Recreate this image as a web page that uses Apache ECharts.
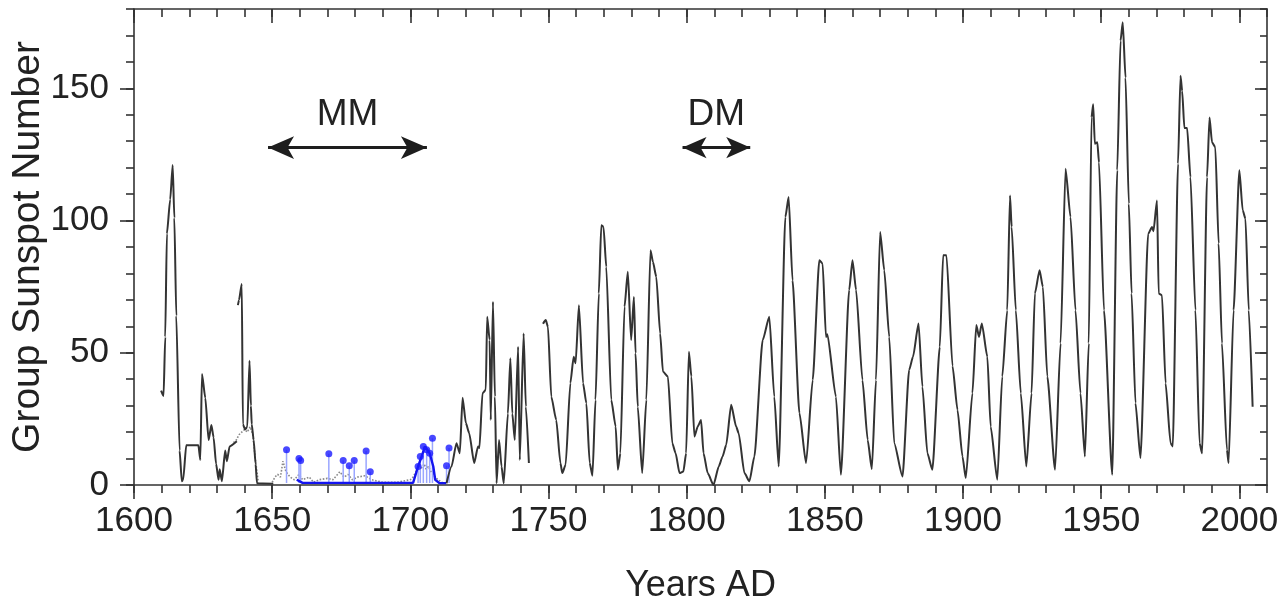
<!DOCTYPE html>
<html>
<head>
<meta charset="utf-8">
<script src="https://cdn.jsdelivr.net/npm/echarts@6/dist/echarts.min.js"></script>
<style>
html,body{margin:0;padding:0;background:#fff;}
#c{width:1284px;height:604px;}
</style>
</head>
<body>
<div id="c"></div>
<script>
// ---------- DATA ----------
const xMajorTicks = [1600, 1650, 1700, 1750, 1800, 1850, 1900, 1950, 2000];
const yMajorTicks = [0, 50, 100, 150];

// Main group sunspot number curve (null = gap)
const mainYears = [
  1609.8,1610.7,1611.3,1611.9,1613.1,1614.0,1614.6,1615.3,1616.5,1617.3,1617.8,1618.9,1623.3,1624.0,1624.6,
  1625.8,1627.0,1628.0,1628.8,1629.7,1630.6,1631.0,1631.8,1633.0,1633.6,1634.6,1637.2,1637.5,1637.6,1638.0,
  1639.0,1639.4,1640.2,1641.0,1641.8,1642.3,1642.6,1643.3,1644.0,1644.5,1650.4,1650.5,
  1713.1,1714.9,1716.7,1717.9,1718.9,1720.1,1721.3,1723.1,1724.5,1725.0,1726.1,1727.3,1727.8,1728.7,1729.1,
  1729.9,1730.6,1731.2,1732.1,1733.0,1733.8,1735.3,1736.2,1736.9,1737.8,1739.0,1739.6,1741.0,1741.8,1742.9,1743.5,
  1748.0,1749.0,1749.8,1751.0,1752.8,1754.3,1755.0,1756.2,1757.9,1759.1,1759.8,1761.0,1762.5,1763.7,1764.9,
  1765.9,1767.0,1768.2,1769.1,1769.9,1770.9,1772.7,1774.3,1775.1,1776.0,1777.5,1778.7,1779.9,1780.9,1781.5,
  1782.3,1783.9,1785.4,1786.9,1787.8,1789.0,1790.4,1791.4,1793.2,1794.8,1796.0,1797.4,1798.8,1799.8,1800.8,
  1801.7,1802.8,1804.0,1805.2,1806.1,1807.6,1809.7,1811.6,1813.0,1814.3,1816.1,1817.9,1818.8,1820.9,1822.7,
  1824.5,1827.5,1829.9,1831.7,1833.3,1835.7,1836.9,1838.3,1840.8,1843.2,1845.6,1848.0,1849.2,1850.4,1850.9,
  1854.0,1855.8,1858.8,1860.0,1861.3,1863.6,1865.5,1867.0,1868.5,1870.0,1871.5,1873.3,1875.1,1878.1,1880.5,
  1881.9,1883.9,1885.3,1887.1,1888.9,1891.6,1892.8,1894.0,1896.2,1898.0,1899.8,1901.0,1903.4,1904.8,1905.8,
  1906.8,1908.8,1910.0,1912.4,1914.2,1916.0,1917.0,1917.6,1919.1,1920.9,1922.9,1924.8,1926.0,1927.7,1928.9,
  1930.5,1933.3,1935.3,1937.1,1938.9,1940.7,1942.5,1944.1,1945.5,1946.5,1947.1,1947.7,1948.6,1949.2,1951.0,
  1954.0,1955.8,1957.0,1957.8,1958.8,1960.0,1961.0,1962.4,1964.2,1967.0,1968.4,1968.9,1970.2,1970.8,1972.0,
  1973.3,1975.1,1975.9,1977.8,1978.7,1979.3,1980.1,1981.1,1982.3,1984.1,1985.6,1986.5,1988.3,1989.2,1990.1,
  1991.3,1992.5,1993.7,1995.5,1996.1,1997.9,2000.0,2001.2,2002.2,2003.4,2004.8
];
const mainVals = [
  35.7,33.7,56,95,108,121,101,64,13,1.4,2,15,15,9.5,42,
  33,17,22.7,18,8,2,6,1.4,13,9,14.6,16.5,null,68,70,
  76,23,21,22,47,30,23,17,8,0.7,0.5,null,
  0.7,7,15.8,12,33,23.4,19.6,8.3,14.6,14,34.7,36,63.6,54.8,24.6,
  69.3,33.4,0.7,17,7,0.7,27,47.9,27,17,52.3,9.5,57.3,29.6,8.3,null,
  61,62.4,59.8,33.4,24.6,8.3,4.5,7.7,38.5,48.5,46,68,38.5,30.9,8.3,
  3.5,32.2,72.4,98.2,97.6,82.5,32.2,22.1,5.8,12,67.4,80.6,54.8,71.1,49.8,
  29.6,4.5,32.2,88.8,84.3,78.7,57.3,42.9,41,15.8,12,4.5,5.1,12,50.4,
  41,18.3,22.1,24.6,12,4.5,0,7,10.8,15.2,30.3,22.1,19.6,4.5,1.4,
  10.8,54.8,63.6,33.4,7,101.3,108.9,77.4,27.2,8.3,39.7,85,83.7,56,57,
  33.4,3.9,73.7,85,73.7,39.7,17,6,39.7,95.7,81.2,56,15.8,3.2,43.5,
  48.5,61.1,37.2,12,5.8,52.3,86.9,86.9,45,28.4,10.8,2.6,34.7,60.5,56,
  61.1,48.5,22.1,2,41,66.1,109.5,97.6,66.1,34.7,7,34.7,72.4,81.2,74.9,
  41,5.8,53.6,119.6,101.3,66.1,34.7,10.8,53.6,139,144,129,129.6,122,66.1,
  3.9,119,168,175,154,106.4,72.4,31,10.2,95,97.6,96,107.6,72.4,71.8,
  38.5,15.8,14.6,121.5,154.8,149,135,135,116.4,66.1,15.8,12,116.4,139,129.6,
  127.7,91.3,53.6,13.3,8.3,66.1,119,103.9,100.7,66.1,29.6
];

// Grey dotted reconstruction (Maunder Minimum period)
const greyYears = [1636,1637,1638,1639,1640,1641,1642,1643,1644,1645,1645.5,
  1650,1651,1652,1653,1653.9,1655,1656.5,1658,1659.7,1661,1663.4,1665,1667,1670,1672,1674.5,1676,1677.5,
  1679,1681,1683.6,1686,1690,1695,1700,1701,1702,1703,1704,1705,1705.7,1706.5,1707.5,1709,1710,1711.5];
const greyVals = [16,17,19,20,21,20,22,19,9,1,null,
  1,3,4,3,9,5,3,2,4,2,3,1,2,2.5,2,5,3,4,
  2,3,3.5,2,1,1,2,3,5,7,6.4,8,6,7,5,3,2,1];

// Blue baseline curve (MM period)
const blueYears = [1658.9,1661,1665,1670,1675,1680,1685,1690,1695,1701,1702.8,1704.1,1705.3,1707,1708.3,1709,1710.5,1713];
const blueVals  = [2,0.8,0.8,0.8,0.8,0.8,0.8,0.8,0.8,0.8,7,10.8,14.6,12,7,2,0.7,0.7];

// Blue individual points (MM period)
const dotYears = [1655.2,1659.7,1660.3,1670.5,1675.7,1677.9,1679.7,1684.0,1685.5,1702.8,1703.6,1704.7,1705.9,1707.0,1708.0,1713.1,1714.0];
const dotVals  = [13.3,10,9.3,11.8,9.3,7.3,9.3,12.9,5,7,10.8,14.6,13.3,12,17.7,7.3,14];

// ---------- BUILD ----------
const pairs = (xs, ys) => xs.map((x, i) => [x, ys[i] === null ? '-' : ys[i]]);
const spikeData = [];
dotYears.forEach((x, i) => { spikeData.push([x, 0.8], [x, dotVals[i]], [x, '-']); });

const FONT = '"Liberation Sans", Arial, Helvetica, sans-serif';
const TXT = '#222';
const AX = { color: '#333', width: 1.6 };
const plain = v => String(v);

function xAx(pos, major, extra) {
  const a = {
    type: 'value', position: pos, min: 1600, max: 2010, interval: major ? 50 : 10,
    splitLine: { show: false },
    axisLine: { show: !major, onZero: false, lineStyle: AX },
    axisTick: { show: true, inside: pos === 'top', length: major ? 14 : 8, lineStyle: AX },
    axisLabel: { show: false }
  };
  if (major) a.axisTick.customValues = xMajorTicks;
  return Object.assign(a, extra || {});
}
function yAx(pos, major, extra) {
  const a = {
    type: 'value', position: pos, min: 0, max: 180, interval: major ? 50 : 10,
    splitLine: { show: false },
    axisLine: { show: !major, onZero: false, lineStyle: AX },
    axisTick: { show: true, inside: pos === 'right', length: major ? (pos === 'right' ? 12 : 14) : (pos === 'right' ? 7 : 8), lineStyle: AX },
    axisLabel: { show: false }
  };
  if (major) a.axisTick.customValues = yMajorTicks;
  return Object.assign(a, extra || {});
}

const arrowEnd = (c, size) => ({ coord: c, symbol: 'arrow', symbolSize: size });

const option = {
  animation: false,
  backgroundColor: '#fff',
  textStyle: { fontFamily: FONT },
  grid: { left: 134, right: 17, top: 9, bottom: 119, containLabel: false, outerBoundsMode: 'none' },
  xAxis: [
    xAx('bottom', false),
    xAx('bottom', true, {
      axisLabel: { show: true, customValues: xMajorTicks, formatter: plain, fontSize: 35, color: TXT, margin: 19, fontFamily: FONT },
      name: 'Years AD', nameLocation: 'middle', nameGap: 83, nameMoveOverlap: false,
      nameTextStyle: { fontSize: 36, color: TXT, fontFamily: FONT }
    }),
    xAx('top', false),
    xAx('top', true)
  ],
  yAxis: [
    yAx('left', false),
    yAx('left', true, {
      axisLabel: { show: true, customValues: yMajorTicks, formatter: plain, fontSize: 35, color: TXT, margin: 25, fontFamily: FONT },
      name: 'Group Sunspot Number', nameLocation: 'middle', nameRotate: 90, nameGap: 86, nameMoveOverlap: false,
      nameTextStyle: { fontSize: 39, color: TXT, fontFamily: FONT }
    }),
    yAx('right', false),
    yAx('right', true)
  ],
  series: [
    {
      type: 'line', name: 'grey', data: pairs(greyYears, greyVals), showSymbol: false,
      lineStyle: { color: '#8a8a8a', width: 1.6, type: 'dotted' }, connectNulls: false, z: 2
    },
    {
      type: 'line', name: 'spikes', data: spikeData, showSymbol: false,
      lineStyle: { color: '#9aa6ff', width: 1.5 }, connectNulls: false, z: 3
    },
    {
      type: 'line', name: 'blue', data: pairs(blueYears, blueVals), showSymbol: false,
      lineStyle: { color: '#1414f0', width: 2.4 }, z: 4
    },
    {
      type: 'scatter', name: 'bluePts', data: pairs(dotYears, dotVals),
      symbol: 'circle', symbolSize: 7, itemStyle: { color: '#1a1aff' }, z: 5
    },
    {
      type: 'line', name: 'GSN', data: pairs(mainYears, mainVals), showSymbol: false,
      connectNulls: false, smooth: 0.2, smoothMonotone: 'x',
      lineStyle: { color: '#333', width: 2 }, z: 6,
      markLine: {
        silent: true, animation: false,
        lineStyle: { color: '#1e1e1e', width: 3, type: 'solid' },
        label: {
          show: true, position: 'insideMiddleTop', formatter: '{b}', distance: 14,
          fontSize: 37, color: TXT, fontFamily: FONT
        },
        data: [
          [ Object.assign({ name: 'MM' }, arrowEnd([1648.5, 127.6], [17, 26])), arrowEnd([1706, 127.6], [17, 26]) ],
          [ Object.assign({ name: 'DM' }, arrowEnd([1798.5, 127.6], [16, 24])), arrowEnd([1823, 127.6], [16, 24]) ]
        ]
      }
    }
  ]
};

const chart = echarts.init(document.getElementById('c'), null, { renderer: 'canvas' });
chart.setOption(option);
</script>
</body>
</html>
